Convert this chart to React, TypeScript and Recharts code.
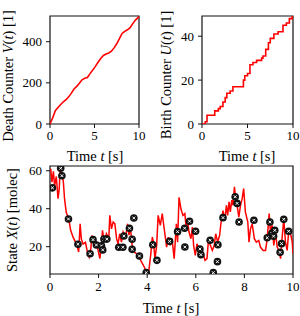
import React from "react";
import {
  LineChart, Line, ComposedChart, Scatter, XAxis, YAxis, ReferenceArea,
} from "recharts";

// death counter V(t)
const deathT = [0, 0.3, 0.6, 0.9, 1.2, 1.5, 1.8, 2.1, 2.4, 2.7, 3.0, 3.3, 3.6, 3.9, 4.2, 4.5, 4.8, 5.1, 5.4, 5.7, 6.0, 6.3, 6.6, 6.9, 7.2, 7.5, 7.8, 8.1, 8.4, 8.7, 9.0, 9.3, 9.6, 10];
const deathV = [0, 30, 65, 80, 95, 108, 118, 132, 150, 170, 183, 198, 215, 222, 226, 245, 262, 280, 300, 318, 333, 340, 345, 354, 370, 390, 415, 440, 450, 458, 468, 488, 505, 522];

// birth counter U(t), step events
const birthT = [0, 0.36, 0.55, 1.4, 1.8, 2.0, 2.3, 2.55, 2.73, 3.1, 3.4, 4.55, 4.7, 5.0, 5.27, 5.6, 6.0, 6.55, 6.7, 7.0, 7.3, 7.5, 7.9, 8.36, 8.9, 9.27, 9.6, 9.9, 10];
const birthU = [0, 1, 4, 6, 7, 8, 10, 12, 14, 15, 17, 20, 22, 23, 27, 28, 29, 30, 31, 34, 37, 39, 41, 42, 45, 46, 48, 49, 49];

// state X(t), simulated trajectory
const stateT = [0, 0.03, 0.08, 0.14, 0.19, 0.26, 0.33, 0.38, 0.41, 0.49, 0.55, 0.6, 0.67, 0.77, 0.85, 0.95, 1.05, 1.13, 1.18, 1.24, 1.29, 1.36, 1.46, 1.54, 1.61, 1.68, 1.73, 1.81, 1.91, 1.98, 2.05, 2.12, 2.16, 2.23, 2.32, 2.42, 2.46, 2.53, 2.6, 2.67, 2.74, 2.8, 2.87, 2.94, 3.01, 3.11, 3.19, 3.25, 3.3, 3.38, 3.46, 3.56, 3.66, 3.77, 3.88, 3.97, 4.07, 4.15, 4.21, 4.26, 4.32, 4.39, 4.45, 4.54, 4.62, 4.7, 4.8, 4.87, 4.95, 5.02, 5.11, 5.2, 5.25, 5.31, 5.39, 5.47, 5.55, 5.6, 5.66, 5.72, 5.8, 5.86, 5.91, 5.98, 6.05, 6.12, 6.21, 6.3, 6.38, 6.46, 6.52, 6.6, 6.68, 6.76, 6.82, 6.9, 6.98, 7.04, 7.12, 7.19, 7.26, 7.31, 7.37, 7.42, 7.48, 7.53, 7.59, 7.64, 7.7, 7.77, 7.84, 7.91, 7.97, 8.04, 8.14, 8.19, 8.25, 8.32, 8.41, 8.49, 8.59, 8.66, 8.77, 8.87, 8.93, 9.02, 9.07, 9.14, 9.21, 9.28, 9.35, 9.42, 9.49, 9.55, 9.62, 9.69, 9.76, 9.83, 9.9, 9.97, 10];
const stateX = [60, 61, 54, 59.7, 52, 57, 45.3, 50.5, 59.3, 59, 54, 45, 38, 34.7, 28.6, 25, 22.4, 19.8, 17.2, 32, 24, 21.4, 22.3, 17, 14.6, 19, 26, 20.7, 22.4, 18, 13.7, 20.7, 28.6, 22.4, 26.8, 24.2, 36.5, 29.4, 33, 32, 24.2, 21.5, 26.8, 22.4, 27.7, 24.2, 32, 26, 31, 20.7, 17.2, 16.3, 14.6, 11.9, 9.3, 6.6, 7.5, 16.3, 25, 22.4, 13.7, 20.7, 36.5, 31.2, 37.4, 29.4, 19.8, 25, 20.7, 24.2, 13.7, 32, 22.4, 46, 39.8, 36.5, 37.4, 30.3, 33.8, 27.7, 24.2, 30.3, 20.7, 15.4, 21.5, 18.9, 14.6, 16.3, 12.8, 13.7, 23.3, 20.7, 18, 20.7, 26.8, 22.4, 26, 33, 39, 33.8, 41.8, 36.5, 43.6, 38.3, 44.5, 41.8, 51.5, 45.4, 41.8, 35.6, 41.8, 45.4, 50.6, 38.3, 33, 22.4, 29.4, 32, 24.2, 22.4, 23.3, 19.8, 18, 18, 23.3, 37.4, 27.7, 31.2, 20.7, 27.7, 19.8, 18, 13.7, 24.2, 34.7, 22.4, 18, 29.4, 26.8, 22.4, 16.3];

// measurements
const measT = [0.1, 0.44, 0.49, 0.76, 1.15, 1.65, 1.77, 1.91, 2.12, 2.17, 2.22, 2.34, 2.83, 3.0, 3.04, 3.27, 3.38, 3.38, 3.45, 3.68, 3.96, 4.23, 4.4, 4.92, 5.25, 5.54, 5.55, 5.74, 5.99, 6.17, 6.21, 6.59, 6.72, 6.89, 6.91, 7.12, 7.62, 7.7, 7.78, 8.39, 8.94, 9.05, 9.13, 9.2, 9.25, 9.47, 9.53, 9.62, 9.82];
const measX = [51, 61.3, 57.4, 34.6, 21.3, 16.3, 23.7, 20.9, 20.4, 18.3, 24, 24, 19.7, 19.7, 25.6, 29.7, 23.9, 18.6, 35.1, 15.1, 6.3, 21, 12.8, 22.8, 27.9, 29.7, 19.8, 33.4, 28.1, 18.8, 15.8, 23.4, 6.3, 12.1, 21, 35.3, 46.3, 42.8, 33, 33.9, 24.7, 33, 27, 25.5, 28.6, 17, 21.6, 34.4, 28.1];

const deathData = deathT.map((t, i) => ({ t, v: deathV[i] }));
const birthData = birthT.map((t, i) => ({ t, v: birthU[i] }));
const stateData = stateT.map((t, i) => ({ t, v: stateX[i] }));
const measData = measT.map((t, i) => ({ t, v: measX[i] }));

const FONT = "'Liberation Serif', 'DejaVu Serif', serif";
const tickStyle = { fontSize: 13, fill: "#000" };

// filled black marker with a small white cross in the middle
const Marker = (props: any) => {
  const { cx, cy } = props;
  if (cx == null || cy == null) return null;
  return (
    <g>
      <circle cx={cx} cy={cy} r={3.8} fill="#111" />
      <path d={`M${cx - 1.4},${cy - 1.4}L${cx + 1.4},${cy + 1.4}M${cx - 1.4},${cy + 1.4}L${cx + 1.4},${cy - 1.4}`}
        stroke="#fff" strokeWidth={1} />
    </g>
  );
};

const Title = ({ x, y, rotate, children }: any) => (
  <div
    style={{
      position: "absolute", left: x, top: y, whiteSpace: "nowrap",
      transform: `translate(-50%, -50%)${rotate ? " rotate(-90deg)" : ""}`,
      fontFamily: FONT, fontSize: 14.5, color: "#000", lineHeight: 1,
    }}
  >
    {children}
  </div>
);

const Frame = ({ x2, y1, y2 }: { x2: number; y1: number; y2: number }) => (
  <ReferenceArea x1={0} x2={x2} y1={y1} y2={y2} fill="none" stroke="#111" strokeWidth={1.2} fillOpacity={0} ifOverflow="visible" />
);

export default function App() {
  return (
    <div style={{ position: "absolute", left: 0, top: 0, width: 300, height: 316, background: "#fff", fontFamily: FONT }}>
      <style>{`.recharts-text, .recharts-cartesian-axis-tick-value { font-family: ${FONT}; }`}</style>
      {/* Death counter */}
      <div style={{ position: "absolute", left: 0, top: 0 }}>
        <LineChart width={150} height={150} data={deathData} margin={{ top: 16, right: 11, bottom: 6, left: 10 }}>
          <XAxis dataKey="t" type="number" domain={[0, 10]} ticks={[0, 5, 10]} tick={tickStyle}
            axisLine={false} tickLine={{ stroke: "#111" }} tickSize={4} tickMargin={3} height={20} />
          <YAxis type="number" domain={[0, 525]} ticks={[0, 200, 400]} tick={tickStyle}
            axisLine={false} tickLine={{ stroke: "#111" }} tickSize={4} tickMargin={4} width={40} allowDataOverflow />
          <Line dataKey="v" type="linear" stroke="#ff0000" strokeWidth={1.6} dot={false} isAnimationActive={false} />
          <Frame x2={10} y1={0} y2={525} />
        </LineChart>
      </div>

      {/* Birth counter */}
      <div style={{ position: "absolute", left: 150, top: 0 }}>
        <LineChart width={150} height={150} data={birthData} margin={{ top: 16, right: 7, bottom: 6, left: 12 }}>
          <XAxis dataKey="t" type="number" domain={[0, 10]} ticks={[0, 5, 10]} tick={tickStyle}
            axisLine={false} tickLine={{ stroke: "#111" }} tickSize={4} tickMargin={3} height={20} />
          <YAxis type="number" domain={[0, 49.2]} ticks={[0, 20, 40]} tick={tickStyle}
            axisLine={false} tickLine={{ stroke: "#111" }} tickSize={4} tickMargin={4} width={40} allowDataOverflow />
          <Line dataKey="v" type="stepAfter" stroke="#ff0000" strokeWidth={1.6} dot={false} isAnimationActive={false} />
          <Frame x2={10} y1={0} y2={49.2} />
        </LineChart>
      </div>

      {/* State with measurements */}
      <div style={{ position: "absolute", left: 0, top: 150 }}>
        <ComposedChart width={300} height={166} margin={{ top: 16, right: 7, bottom: 22, left: 10 }}>
          <XAxis dataKey="t" type="number" domain={[0, 10]} ticks={[0, 2, 4, 6, 8, 10]} tick={tickStyle}
            axisLine={false} tickLine={{ stroke: "#111" }} tickSize={4} tickMargin={4} height={20} allowDataOverflow />
          <YAxis type="number" domain={[5.6, 62.5]} ticks={[20, 40, 60]} tick={tickStyle}
            axisLine={false} tickLine={{ stroke: "#111" }} tickSize={4} tickMargin={4} width={40} allowDataOverflow />
          <Line data={stateData} dataKey="v" type="linear" stroke="#ff0000" strokeWidth={1.5} dot={false} isAnimationActive={false} />
          <Scatter data={measData} dataKey="v" shape={<Marker />} isAnimationActive={false} />
          <Frame x2={10} y1={5.6} y2={62.5} />
        </ComposedChart>
      </div>

      <Title x={8} y={76} rotate>Death Counter <i>V</i>(<i>t</i>) [1]</Title>
      <Title x={166} y={75} rotate>Birth Counter <i>U</i>(<i>t</i>) [1]</Title>
      <Title x={12} y={220} rotate>State <i>X</i>(<i>t</i>) [molec]</Title>
      <Title x={95} y={156}>Time <i>t</i> [s]</Title>
      <Title x={247} y={156}>Time <i>t</i> [s]</Title>
      <Title x={171} y={308}>Time <i>t</i> [s]</Title>
    </div>
  );
}
